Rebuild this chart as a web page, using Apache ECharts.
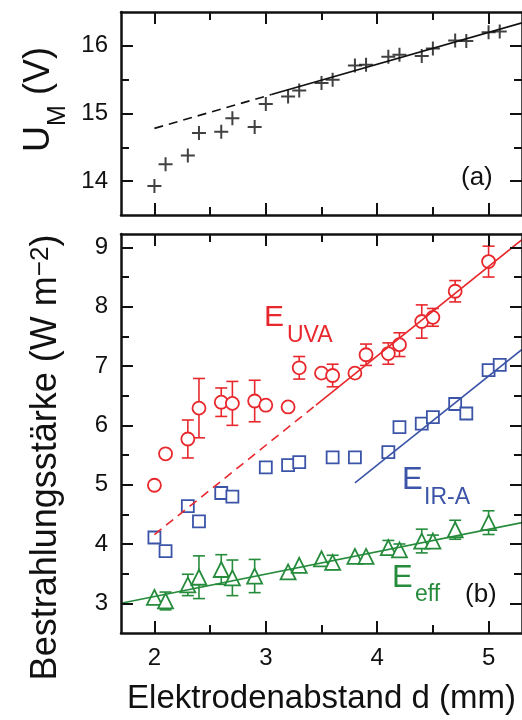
<!DOCTYPE html>
<html>
<head>
<meta charset="utf-8">
<script src="https://cdn.jsdelivr.net/npm/echarts@6/dist/echarts.min.js"></script>
<style>
  html, body { margin: 0; padding: 0; background: #fff; }
  #chart { width: 522px; height: 720px; }
</style>
</head>
<body>
<div id="chart"></div>
<script>
// ---- data: electrode gap d (mm) ----
const dU   = [2.0, 2.1, 2.3, 2.4, 2.6, 2.7, 2.9, 3.0, 3.2, 3.3, 3.5, 3.6, 3.8, 3.9, 4.1, 4.2, 4.4, 4.5, 4.7, 4.8, 5.0, 5.1];
const uM   = [13.93, 14.25, 14.38, 14.71, 14.73, 14.93, 14.80, 15.14, 15.25, 15.34, 15.45, 15.50, 15.71, 15.72, 15.84, 15.87, 15.85, 15.96, 16.08, 16.07, 16.20, 16.21];

const dUVA   = [2.0, 2.1, 2.3, 2.4, 2.6, 2.7, 2.9, 3.0, 3.2, 3.3, 3.5, 3.6, 3.8, 3.9, 4.1, 4.2, 4.4, 4.5, 4.7, 5.0];
const eUVA   = [4.99, 5.52, 5.77, 6.29, 6.39, 6.37, 6.41, 6.34, 6.31, 6.97, 6.88, 6.84, 6.88, 7.19, 7.21, 7.36, 7.75, 7.82, 8.26, 8.76];
const errUVA = [0, 0, 0.32, 0.50, 0.24, 0.37, 0.35, 0, 0, 0.19, 0, 0.19, 0, 0.18, 0.18, 0.20, 0.28, 0.15, 0.18, 0.26];

const dIR  = [2.0, 2.1, 2.3, 2.4, 2.6, 2.7, 3.0, 3.2, 3.3, 3.6, 3.8, 4.1, 4.2, 4.4, 4.5, 4.7, 4.8, 5.0, 5.1];
const eIR  = [4.11, 3.88, 4.64, 4.38, 4.86, 4.80, 5.29, 5.33, 5.38, 5.46, 5.46, 5.55, 5.97, 6.03, 6.14, 6.36, 6.20, 6.93, 7.02];

const dEff   = [2.0, 2.1, 2.3, 2.4, 2.6, 2.7, 2.9, 3.2, 3.3, 3.5, 3.6, 3.8, 3.9, 4.1, 4.2, 4.4, 4.5, 4.7, 5.0];
const eEff   = [3.10, 3.04, 3.31, 3.44, 3.57, 3.43, 3.46, 3.53, 3.64, 3.75, 3.69, 3.79, 3.79, 3.94, 3.90, 4.05, 4.05, 4.24, 4.36];
const errEff = [0, 0.15, 0.18, 0.36, 0.25, 0.30, 0.28, 0, 0, 0, 0.12, 0, 0, 0.12, 0.10, 0.20, 0.10, 0.16, 0.20];

// linear fits (end points)
const fitUDashed   = [[2.0, 14.78], [3.05, 15.28]];
const fitUSolid    = [[3.05, 15.28], [5.3, 16.34]];
const fitUVADashed = [[2.0, 4.16], [3.45, 6.34]];
const fitUVASolid  = [[3.45, 6.34], [5.3, 9.13]];
const fitIR        = [[3.8, 5.03], [5.3, 7.28]];
const fitEff       = [[1.7, 3.0], [5.3, 4.36]];

// axes
const xRange = [1.7, 5.3];
const xMajor = [2, 3, 4, 5];
const xMinor = [2.5, 3.5, 4.5];
const uRange = [13.5, 16.5];
const uMajor = [14, 15, 16];
const uMinor = [14.5, 15.5];
const eRange = [2.5, 9.225];
const eMajor = [3, 4, 5, 6, 7, 8, 9];
const eMinor = [3.5, 4.5, 5.5, 6.5, 7.5, 8.5];

const FONT = '"Liberation Sans", Arial, Helvetica, sans-serif';
const INK = '#111';
const RED = '#e8282c';
const BLUE = '#3b54a8';
const GREEN = '#268c3c';

const zip = (xs, ys, es) => xs.map((x, i) => es ? [x, ys[i], es[i]] : [x, ys[i]]);

function axis(grid, position, range, ticks, len, opts) {
  opts = opts || {};
  const a = {
    type: 'value', gridIndex: grid, position: position,
    min: range[0], max: range[1],
    splitLine: { show: false },
    axisLine: { show: !!opts.line, onZero: false, lineStyle: { color: INK, width: 2.5 } },
    axisTick: { show: true, inside: true, length: len, customValues: ticks,
                lineStyle: { color: INK, width: 2 } },
    axisLabel: { show: !!opts.labels, customValues: ticks, color: INK,
                 fontFamily: FONT, fontSize: 24, margin: 13 },
    z: 5
  };
  if (opts.name) Object.assign(a, opts.name);
  return a;
}

const xAxes = [];
const yAxes = [];
[0, 1].forEach(g => {
  xAxes.push(axis(g, 'bottom', xRange, xMajor, 12, { line: true, labels: g === 1,
    name: g === 1 ? { name: 'Elektrodenabstand d (mm)', nameLocation: 'middle', nameGap: 49,
      nameTextStyle: { fontFamily: FONT, fontSize: 33, color: INK } } : null }));
  xAxes.push(axis(g, 'top', xRange, xMajor, 12, { line: true }));
  xAxes.push(axis(g, 'bottom', xRange, xMinor, 8, {}));
  xAxes.push(axis(g, 'top', xRange, xMinor, 8, {}));
});

function titleRich(size, small) {
  return {
    m:   { fontFamily: FONT, fontSize: size, color: INK, lineHeight: size, verticalAlign: 'top' },
    sub: { fontFamily: FONT, fontSize: small, color: INK, lineHeight: small, verticalAlign: 'top',
           padding: [Math.round(size * 0.66), 0, 0, 0] },
    sup: { fontFamily: FONT, fontSize: small, color: INK, lineHeight: small, verticalAlign: 'top',
           padding: [0, 0, 0, 0] }
  };
}

yAxes.push(axis(0, 'left', uRange, uMajor, 12, { line: true, labels: true,
  name: { name: '{m|U}{sub|M}{m| (V)}', nameLocation: 'middle', nameGap: 57, nameRotate: 90,
    nameTextStyle: { rich: titleRich(36, 25), padding: [0, 0, 0, 28] } } }));
yAxes.push(axis(0, 'right', uRange, uMajor, 12, { line: true }));
yAxes.push(axis(0, 'left', uRange, uMinor, 8, {}));
yAxes.push(axis(0, 'right', uRange, uMinor, 8, {}));

yAxes.push(axis(1, 'left', eRange, eMajor, 12, { line: true, labels: true,
  name: { name: '{m|Bestrahlungsstärke (W m}{sup|\u22122}{m|)}', nameLocation: 'middle', nameGap: 57, nameRotate: 90,
    nameTextStyle: { rich: titleRich(36, 26), padding: [0, 48, 0, 0] } } }));
yAxes.push(axis(1, 'right', eRange, eMajor, 12, { line: true }));
yAxes.push(axis(1, 'left', eRange, eMinor, 8, {}));
yAxes.push(axis(1, 'right', eRange, eMinor, 8, {}));

function errorBars(color, xi, yi, data) {
  return {
    type: 'custom', xAxisIndex: xi, yAxisIndex: yi, data: data, z: 2, clip: true,
    encode: { x: 0, y: 1 },
    renderItem: function (params, api) {
      const x = api.value(0), y = api.value(1), e = api.value(2);
      if (!e) return null;
      const hi = api.coord([x, y + e]);
      const lo = api.coord([x, y - e]);
      const hw = 6;
      const st = { stroke: color, lineWidth: 1.6 };
      return {
        type: 'group', children: [
          { type: 'line', shape: { x1: hi[0], y1: hi[1], x2: lo[0], y2: lo[1] }, style: st },
          { type: 'line', shape: { x1: hi[0] - hw, y1: hi[1], x2: hi[0] + hw, y2: hi[1] }, style: st },
          { type: 'line', shape: { x1: lo[0] - hw, y1: lo[1], x2: lo[0] + hw, y2: lo[1] }, style: st }
        ]
      };
    }
  };
}

function fitLine(color, xi, yi, data, dashed) {
  return {
    type: 'line', xAxisIndex: xi, yAxisIndex: yi, data: data, symbol: 'none', z: 4,
    lineStyle: { color: color, width: 1.6, type: dashed ? [9, 6] : 'solid' },
    silent: true, animation: false
  };
}

function markers(color, xi, yi, data, symbol, size) {
  return {
    type: 'scatter', xAxisIndex: xi, yAxisIndex: yi, data: data, symbol: symbol, symbolSize: size, z: 3,
    itemStyle: { color: '#fff', borderColor: color, borderWidth: 1.8, opacity: 1 }
  };
}

const crossSymbol = 'path://M10,0 L10,20 M0,10 L20,10';

const series = [
  fitLine(INK, 0, 0, fitUDashed, true),
  fitLine(INK, 0, 0, fitUSolid, false),
  {
    type: 'scatter', xAxisIndex: 0, yAxisIndex: 0, data: zip(dU, uM), symbol: crossSymbol, symbolSize: 14, z: 3,
    itemStyle: { color: 'none', borderColor: INK, borderWidth: 2 }
  },
  errorBars(RED, 4, 4, zip(dUVA, eUVA, errUVA)),
  errorBars(GREEN, 4, 4, zip(dEff, eEff, errEff)),
  markers(RED, 4, 4, zip(dUVA, eUVA), 'circle', 13),
  markers(BLUE, 4, 4, zip(dIR, eIR), 'rect', 12),
  markers(GREEN, 4, 4, zip(dEff, eEff), 'triangle', 15),
  fitLine(RED, 4, 4, fitUVADashed, true),
  fitLine(RED, 4, 4, fitUVASolid, false),
  fitLine(BLUE, 4, 4, fitIR, false),
  fitLine(GREEN, 4, 4, fitEff, false)
];

function label(text, left, top, size, color) {
  return { type: 'text', left: left, top: top, z: 10,
    style: { text: text, font: size + 'px ' + FONT, fill: color } };
}

const option = {
  animation: false,
  backgroundColor: '#fff',
  grid: [
    { left: 121, top: 12, width: 406, height: 203 },
    { left: 121, top: 234, width: 406, height: 406 }
  ],
  xAxis: xAxes,
  yAxis: yAxes,
  series: series,
  graphic: [
    label('(a)', 461, 165, 26, INK),
    label('(b)', 465, 582, 26, INK),
    label('E', 264, 303, 30, RED),
    label('UVA', 287, 324, 23, RED),
    label('E', 402, 465, 31, BLUE),
    label('IR-A', 424, 486, 23, BLUE),
    label('E', 392, 563, 31, GREEN),
    label('eff', 415, 583, 23, GREEN)
  ]
};

const chart = echarts.init(document.getElementById('chart'), null, { renderer: 'canvas' });
chart.setOption(option);
</script>
</body>
</html>
